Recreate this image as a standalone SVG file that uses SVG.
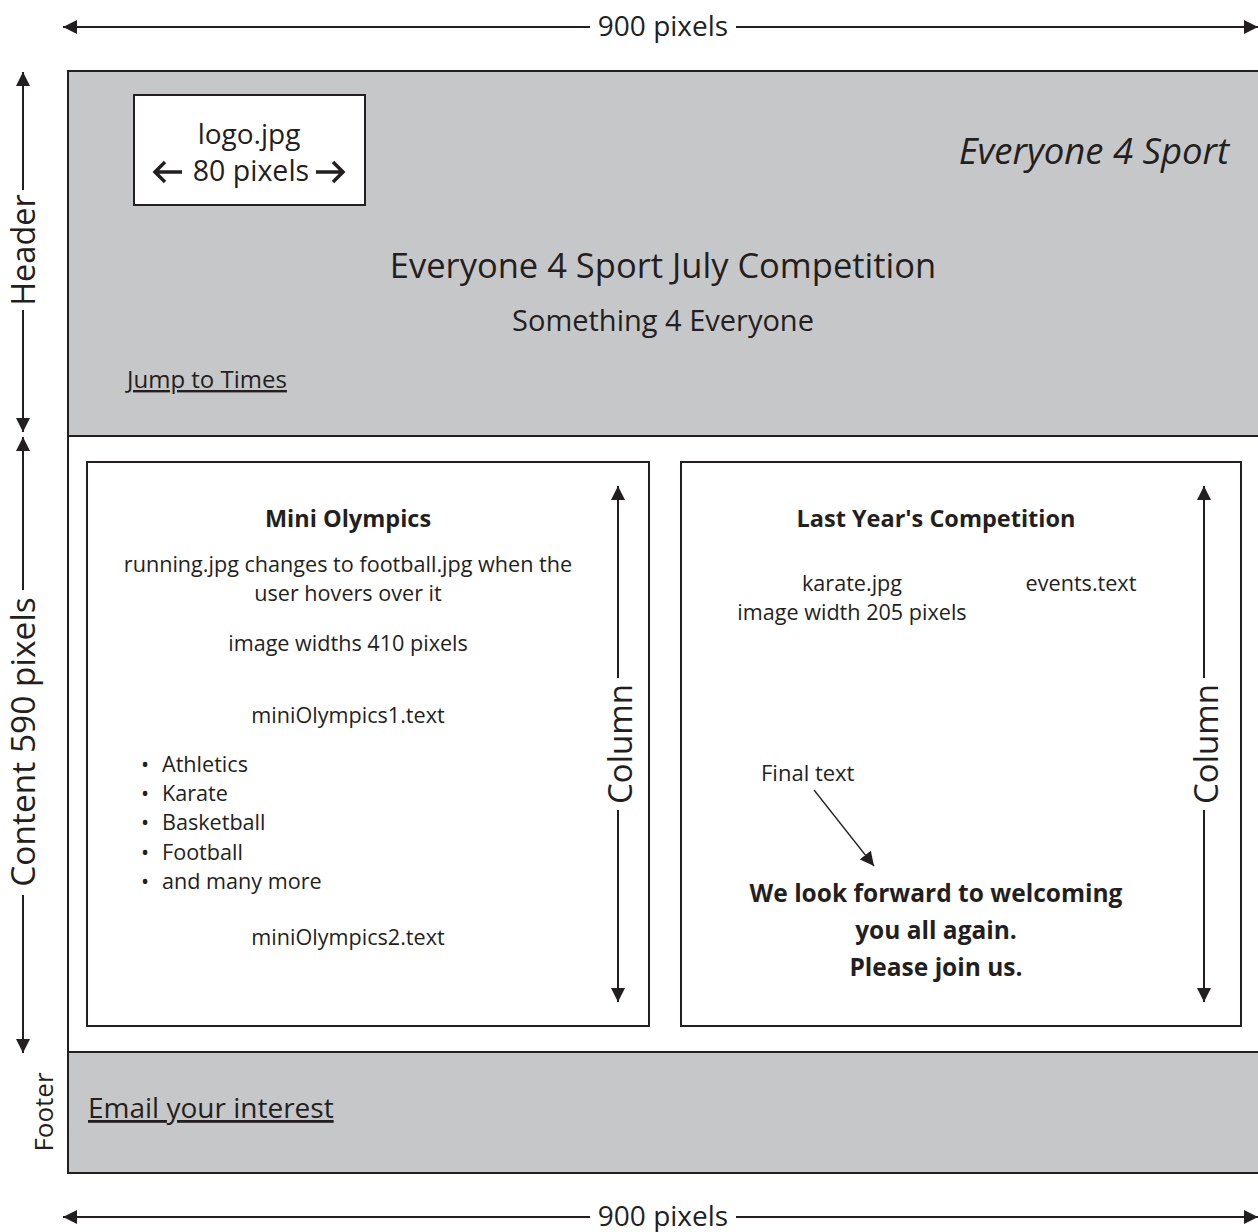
<svg xmlns="http://www.w3.org/2000/svg" width="1258" height="1232" viewBox="0 0 1258 1232">
<style>
text{font-family:"Open Sans","Noto Sans",sans-serif;fill:#231f20}
.c{text-anchor:middle}
.b{font-weight:bold}
.ln{stroke:#231f20;stroke-width:2;fill:none}
.frame{stroke:#231f20;stroke-width:2}
.body{font-size:21.6px}
</style>
<defs>
<marker id="ahs" viewBox="0 0 10 10" refX="10" refY="5" markerWidth="14" markerHeight="14" orient="auto-start-reverse" markerUnits="userSpaceOnUse">
<path d="M0,0 L10,5 L0,10 z" fill="#231f20"/>
</marker>
</defs>

<g id="header">
<rect x="68" y="71" width="1200" height="365" fill="#c6c7c9" class="frame"/>
<text x="1229" y="164" font-size="36.5" font-style="italic" text-anchor="end">Everyone 4 Sport</text>
<text x="663" y="278" font-size="34.5" class="c">Everyone 4 Sport July Competition</text>
<text x="663" y="331" font-size="29" class="c">Something 4 Everyone</text>
<text x="127" y="388" font-size="24" text-decoration="underline">Jump to Times</text>
</g>

<g id="logo">
<rect x="134" y="95" width="231" height="110" fill="#fff" class="frame"/>
<text x="249" y="144" font-size="28" class="c">logo.jpg</text>
<text x="251" y="181" font-size="28.5" class="c">80 pixels</text>
<path d="M154,172 H182 M165,162 L155,172 L165,182" style="stroke:#231f20;stroke-width:3.5;fill:none"/>
<path d="M316,172 H344 M333,162 L343,172 L333,182" style="stroke:#231f20;stroke-width:3.5;fill:none"/>
</g>

<g id="content">
<rect x="68" y="436" width="1200" height="616" fill="#fff" class="frame"/>
</g>

<g id="column-left">
<rect x="87" y="462" width="562" height="564" fill="#fff" class="frame"/>
<text x="348" y="527" font-size="23.5" class="c b">Mini Olympics</text>
<text x="348" y="572" class="c body">running.jpg changes to football.jpg when the</text>
<text x="348" y="601" class="c body">user hovers over it</text>
<text x="348" y="651" class="c body">image widths 410 pixels</text>
<text x="348" y="723" class="c body">miniOlympics1.text</text>
<text class="body">
<tspan x="141" y="772">•</tspan><tspan x="162" y="772">Athletics</tspan>
<tspan x="141" y="801">•</tspan><tspan x="162" y="801">Karate</tspan>
<tspan x="141" y="830">•</tspan><tspan x="162" y="830">Basketball</tspan>
<tspan x="141" y="860">•</tspan><tspan x="162" y="860">Football</tspan>
<tspan x="141" y="889">•</tspan><tspan x="162" y="889">and many more</tspan>
</text>
<text x="348" y="945" class="c body">miniOlympics2.text</text>
<text transform="translate(632,744) rotate(-90)" font-size="33" class="c">Column</text>
</g>

<g id="column-right">
<rect x="681" y="462" width="560" height="564" fill="#fff" class="frame"/>
<text x="936" y="527" font-size="23.5" class="c b">Last Year's Competition</text>
<text x="852" y="591" class="c body">karate.jpg</text>
<text x="852" y="620" class="c body">image width 205 pixels</text>
<text x="1081" y="591" class="c body">events.text</text>
<text x="761" y="781" font-size="22">Final text</text>
<text x="936" y="902" font-size="24.5" class="c b">We look forward to welcoming</text>
<text x="936" y="939" font-size="24.5" class="c b">you all again.</text>
<text x="936" y="976" font-size="24.5" class="c b">Please join us.</text>
<text transform="translate(1218,744) rotate(-90)" font-size="33" class="c">Column</text>
</g>

<g id="footer">
<rect x="68" y="1052" width="1200" height="121" fill="#c6c7c9" class="frame"/>
<text x="88" y="1118" font-size="28" text-decoration="underline">Email your interest</text>
</g>

<g id="labels">
<text x="663" y="36" font-size="28" class="c">900 pixels</text>
<text x="663" y="1226" font-size="28" class="c">900 pixels</text>
<text transform="translate(35,250) rotate(-90)" font-size="32.5" class="c">Header</text>
<text transform="translate(35,742) rotate(-90)" font-size="33.5" class="c">Content 590 pixels</text>
<text transform="translate(53,1112) rotate(-90)" font-size="26" class="c">Footer</text>
</g>

<g id="connectors" class="ln">
<line x1="590" y1="27" x2="63" y2="27" marker-end="url(#ahs)"/>
<line x1="736" y1="27" x2="1258" y2="27" marker-end="url(#ahs)"/>
<line x1="590" y1="1217" x2="63" y2="1217" marker-end="url(#ahs)"/>
<line x1="736" y1="1217" x2="1258" y2="1217" marker-end="url(#ahs)"/>
<line x1="23" y1="190" x2="23" y2="72" marker-end="url(#ahs)"/>
<line x1="23" y1="310" x2="23" y2="432" marker-end="url(#ahs)"/>
<line x1="23" y1="590" x2="23" y2="437" marker-end="url(#ahs)"/>
<line x1="23" y1="895" x2="23" y2="1053" marker-end="url(#ahs)"/>
<line x1="618" y1="678" x2="618" y2="486" marker-end="url(#ahs)"/>
<line x1="618" y1="810" x2="618" y2="1002" marker-end="url(#ahs)"/>
<line x1="1204" y1="678" x2="1204" y2="486" marker-end="url(#ahs)"/>
<line x1="1204" y1="810" x2="1204" y2="1002" marker-end="url(#ahs)"/>
<line x1="814" y1="790" x2="874" y2="866" stroke-width="1.3" marker-end="url(#ahs)"/>
</g>
</svg>
